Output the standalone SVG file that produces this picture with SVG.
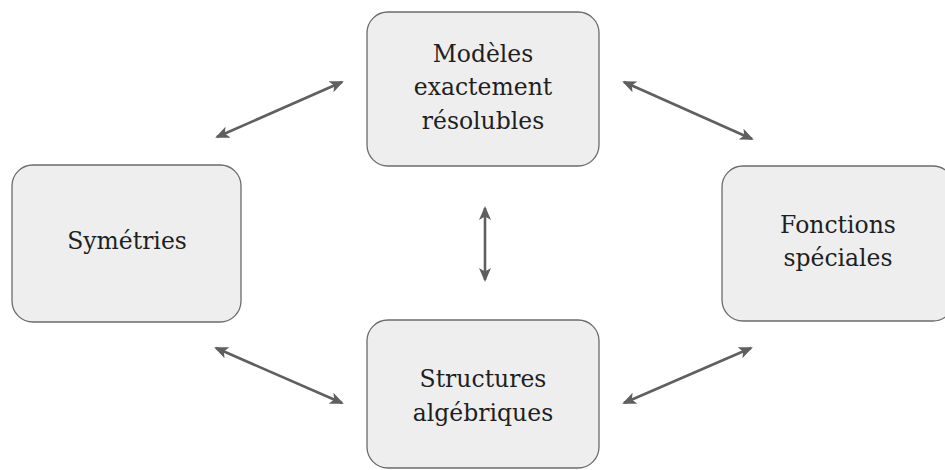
<svg xmlns="http://www.w3.org/2000/svg" width="945" height="470" viewBox="0 0 945 470">
  <style>
    .box { fill: #eeeeee; stroke: #6b6b6b; stroke-width: 1.3; }
    .label { font-family: "DejaVu Serif", "Liberation Serif", serif; font-size: 23.5px; fill: #1f1f1f; text-anchor: middle; }
    .link { stroke: #5f5f5f; stroke-width: 2.6; fill: none; marker-start: url(#head); marker-end: url(#head); }
  </style>
  <defs>
    <marker id="head" viewBox="0 0 14 12" refX="12" refY="6" markerWidth="14" markerHeight="12" markerUnits="userSpaceOnUse" orient="auto-start-reverse">
      <path d="M0,0 L14,6 L0,12 L3.5,6 Z" fill="#5f5f5f"/>
    </marker>
  </defs>
  <rect width="945" height="470" fill="#ffffff"/>

  <g id="connectors">
    <line class="link" x1="217" y1="137" x2="342" y2="82"/>
    <line class="link" x1="624" y1="82" x2="752" y2="139"/>
    <line class="link" x1="216" y1="348" x2="342" y2="403"/>
    <line class="link" x1="624" y1="403" x2="751" y2="348"/>
    <line class="link" x1="485" y1="208" x2="485" y2="280"/>
  </g>

  <g id="node-modeles">
    <rect class="box" x="367" y="12" width="232" height="154" rx="21"/>
    <text class="label" x="483" y="62">Modèles</text>
    <text class="label" x="483" y="95">exactement</text>
    <text class="label" x="483" y="129">résolubles</text>
  </g>

  <g id="node-symetries">
    <rect class="box" x="12" y="165" width="229" height="157" rx="21"/>
    <text class="label" x="127" y="249">Symétries</text>
  </g>

  <g id="node-fonctions">
    <rect class="box" x="722" y="166" width="232" height="155" rx="21"/>
    <text class="label" x="838" y="233">Fonctions</text>
    <text class="label" x="838" y="266">spéciales</text>
  </g>

  <g id="node-structures">
    <rect class="box" x="367" y="320" width="232" height="148" rx="21"/>
    <text class="label" x="483" y="387">Structures</text>
    <text class="label" x="483" y="421">algébriques</text>
  </g>
</svg>
